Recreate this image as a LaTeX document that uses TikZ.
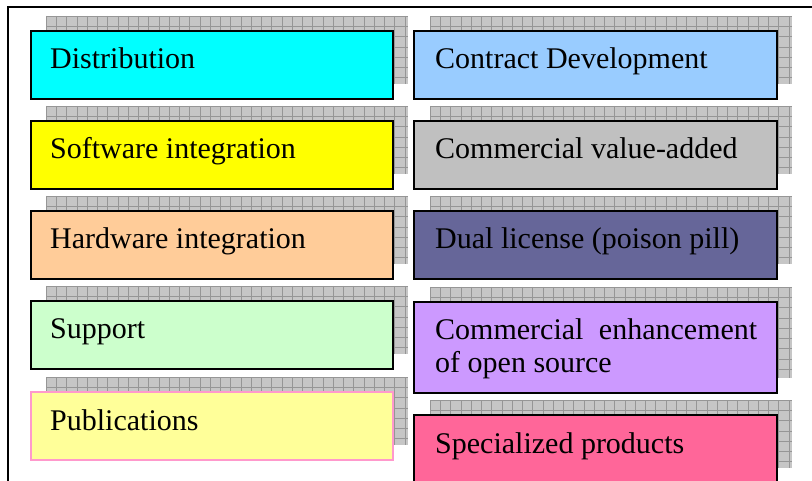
\documentclass[tikz,border=0pt]{standalone}
\usepackage{fontspec}
\setmainfont{Liberation Serif}
\definecolor{cDist}{HTML}{00FFFF}
\definecolor{cSoft}{HTML}{FFFF00}
\definecolor{cHard}{HTML}{FFCC99}
\definecolor{cSupp}{HTML}{CCFFCC}
\definecolor{cPubl}{HTML}{FFFF99}
\definecolor{cPublEdge}{HTML}{FF99CC}
\definecolor{cCont}{HTML}{99CCFF}
\definecolor{cValu}{HTML}{C0C0C0}
\definecolor{cDual}{HTML}{666699}
\definecolor{cEnha}{HTML}{CC99FF}
\definecolor{cSpec}{HTML}{FF6699}
\definecolor{shadowfill}{RGB}{198,198,198}
\definecolor{shadowline}{RGB}{150,150,150}
% gridded drop shadow: x, y (top left), width, height
\newcommand{\meshshadow}[4]{%
  \fill[shadowfill] (#1,#2) rectangle ++(#3,#4);
  \begin{scope}
    \clip (#1,#2) rectangle ++(#3,#4);
    \foreach \i in {0,...,36} \draw[meshln] ({#1+\i*10.25},#2) -- ++(0,#4);
    \foreach \j in {0,...,9} \draw[meshln] (#1,{#2+\j*10.25}) -- ++(#3,0);
  \end{scope}}
\begin{document}
\begin{tikzpicture}[x=1pt,y=-1pt,
  meshln/.style={shadowline,line width=0.45pt},
  box/.style={draw=black,line width=1.3pt,inner sep=0pt,outer sep=0pt,
              anchor=north west,minimum height=68pt},
  lbox/.style={box,minimum width=362pt},
  rbox/.style={box,minimum width=363pt},
  lbl/.style={anchor=base west,inner sep=0pt,font=\fontsize{30}{33}\selectfont},
  frame/.style={draw=black,line width=1.5pt}]
\clip (0,0) rectangle (812,481);
\fill[white] (0,0) rectangle (812,481);

% outer frame
\draw[frame] (8,482) -- (8,7) -- (813,7);

% shadows, left column
\meshshadow{46}{16}{362}{68}
\meshshadow{46}{106}{362}{68}
\meshshadow{46}{196}{362}{68}
\meshshadow{46}{286}{362}{68}
\meshshadow{46}{377}{362}{68}
% shadows, right column
\meshshadow{430}{16}{362}{68}
\meshshadow{430}{106}{362}{68}
\meshshadow{430}{196}{362}{68}
\meshshadow{430}{287}{362}{91}
\meshshadow{430}{400}{362}{68}

% left column
\node[lbox,fill=cDist] (dist) at (31,31) {};
\node[lbox,fill=cSoft] (soft) at (31,121) {};
\node[lbox,fill=cHard] (hard) at (31,211) {};
\node[lbox,fill=cSupp] (supp) at (31,301) {};
\node[lbox,fill=cPubl,draw=cPublEdge,line width=1.4pt] (publ) at (31,392) {};

\node[lbl] (distT) at ([shift={(19,38)}]dist.north west) {Distribution};
\node[lbl] (softT) at ([shift={(19,38)}]soft.north west) {Software integration};
\node[lbl] (hardT) at ([shift={(19,38)}]hard.north west) {Hardware integration};
\node[lbl] (suppT) at ([shift={(19,38)}]supp.north west) {Support};
\node[lbl] (publT) at ([shift={(19,38)}]publ.north west) {Publications};

% right column
\node[rbox,fill=cCont] (cont) at (414,31) {};
\node[rbox,fill=cValu] (valu) at (414,121) {};
\node[rbox,fill=cDual] (dual) at (414,211) {};
\node[rbox,fill=cEnha,minimum height=91pt] (enha) at (414,302) {};
\node[rbox,fill=cSpec] (spec) at (414,415) {};

\node[lbl] (contT) at ([shift={(21,38)}]cont.north west) {Contract Development};
\node[lbl] (valuT) at ([shift={(21,38)}]valu.north west) {Commercial value-added};
\node[lbl] (dualT) at ([shift={(21,38)}]dual.north west) {Dual license (poison pill)};
\node[lbl] (enhaT) at ([shift={(21,38)}]enha.north west)
  {\vtop{\hbox to 322pt{Commercial\hfill enhancement}\hbox{of open source}}};
\node[lbl] (specT) at ([shift={(21,38)}]spec.north west) {Specialized products};
\end{tikzpicture}
\end{document}
